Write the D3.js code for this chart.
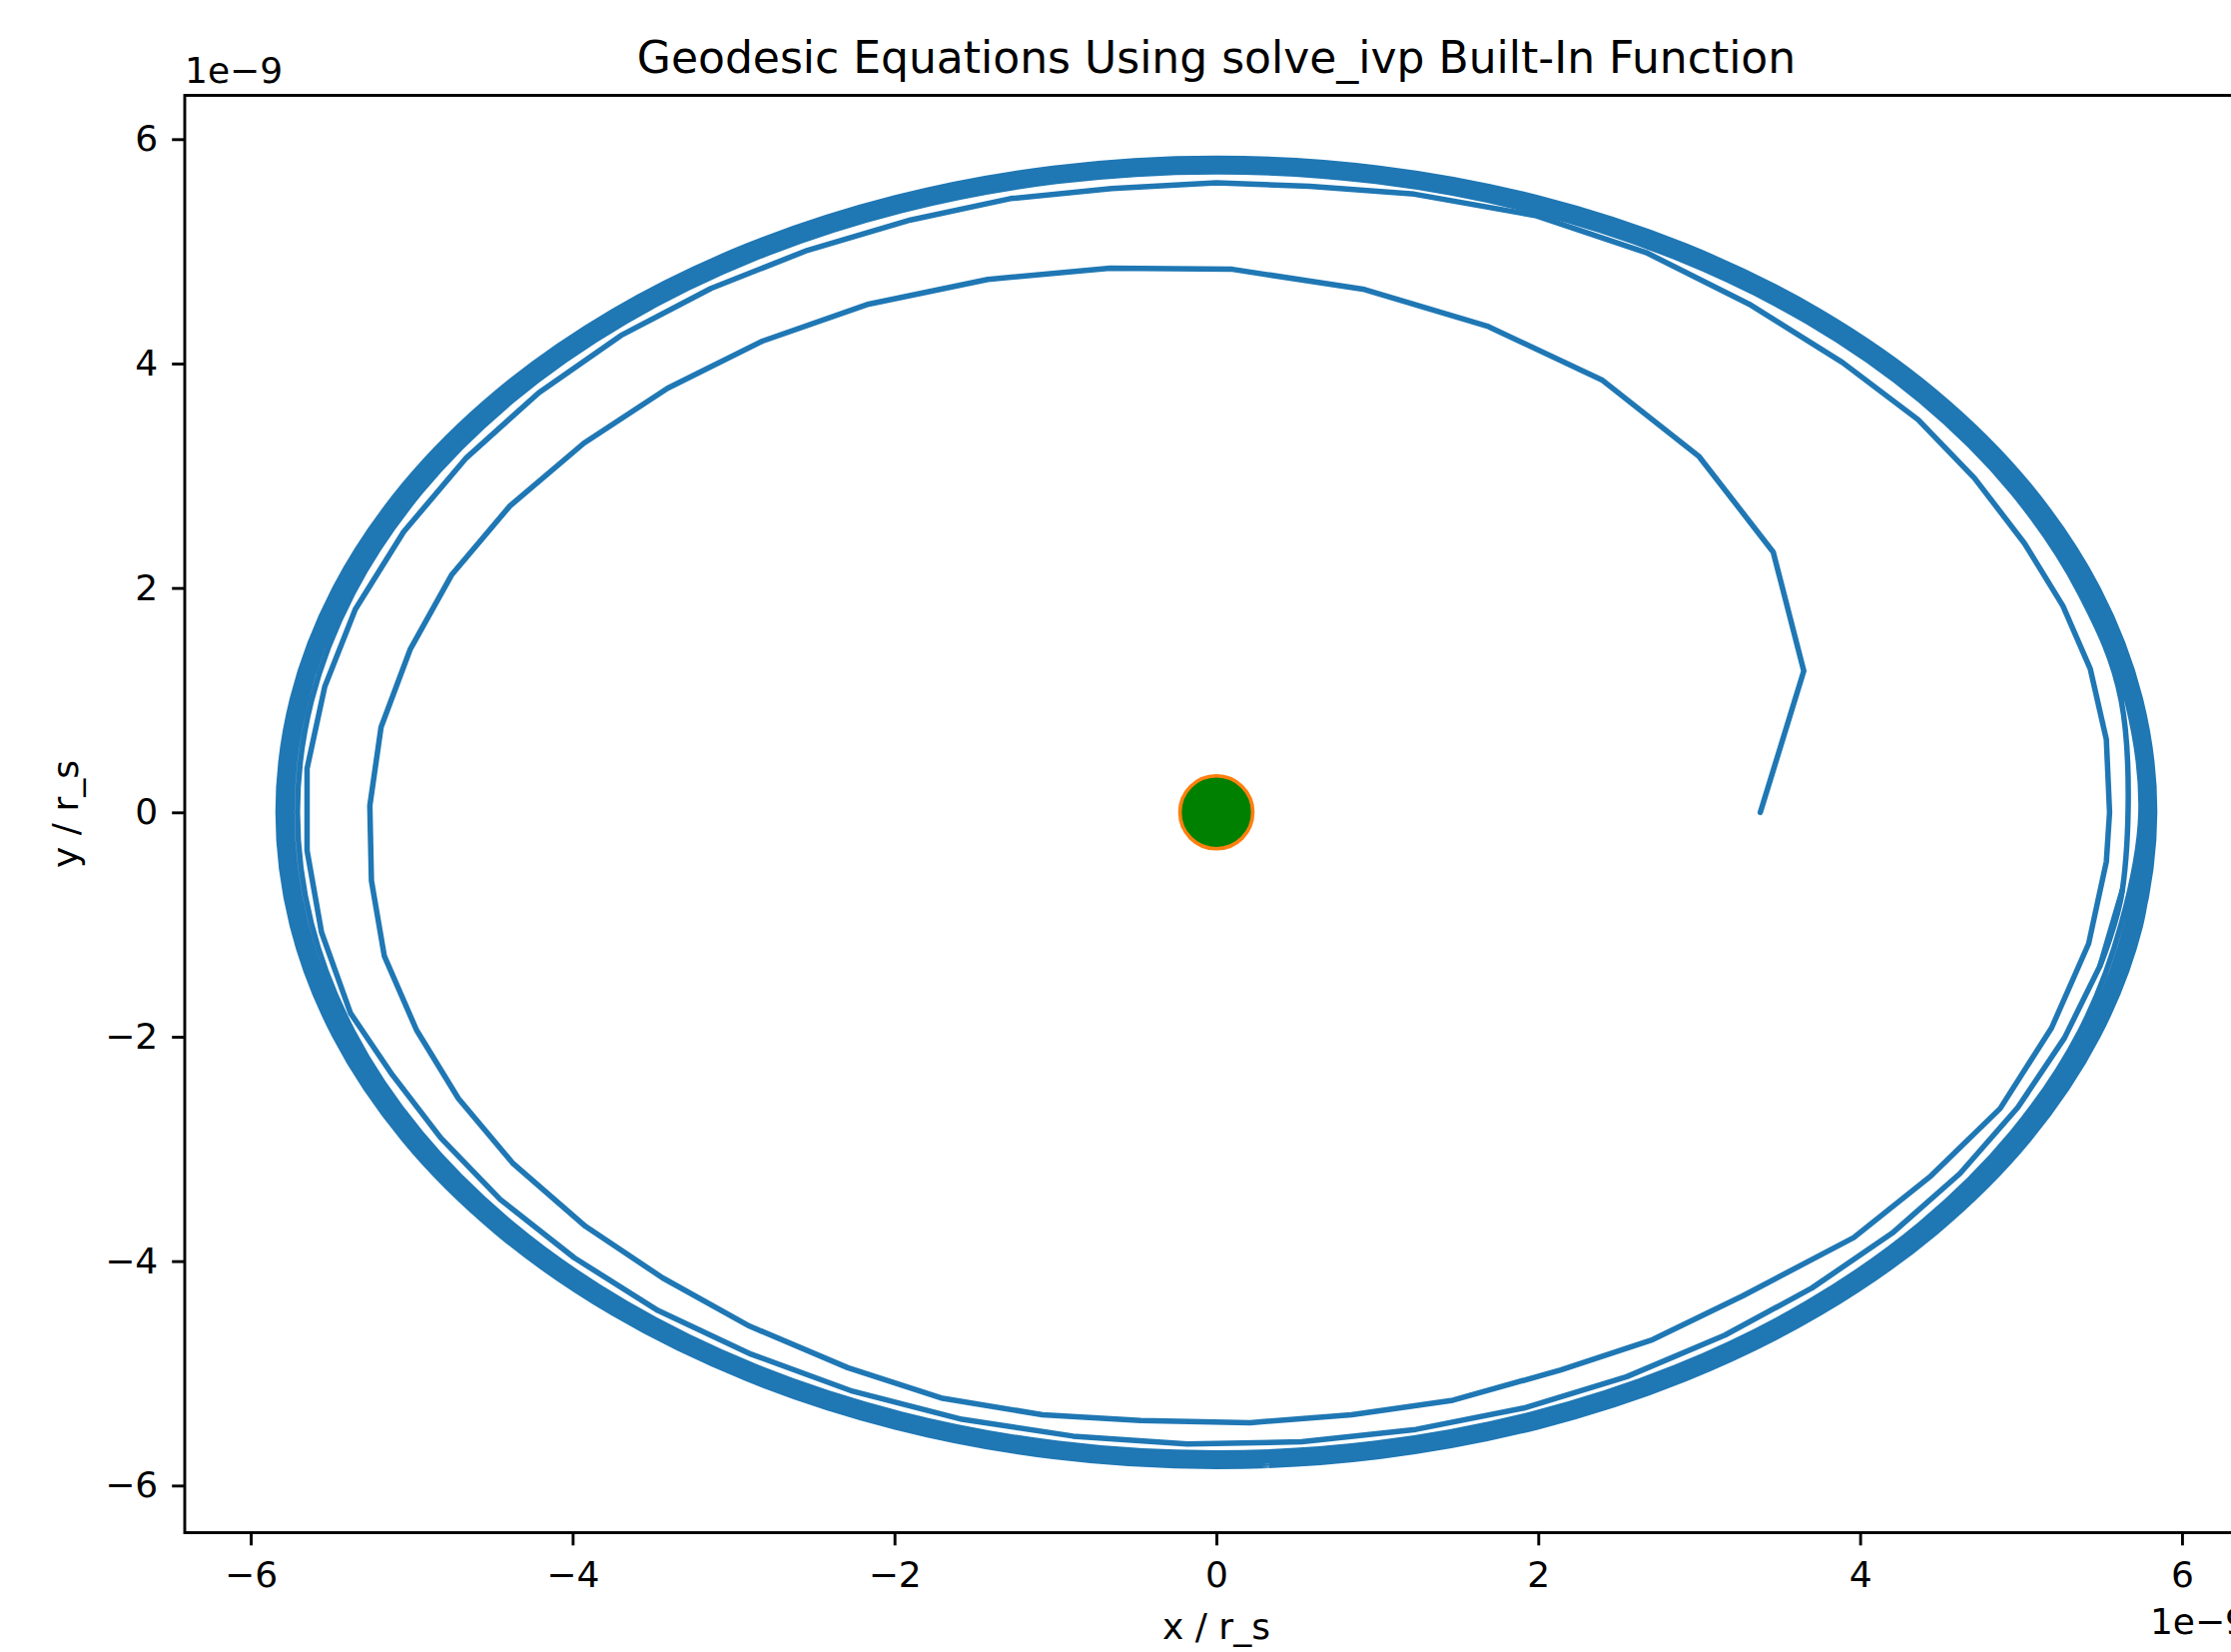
<!DOCTYPE html>
<html>
<head>
<meta charset="utf-8">
<script src="https://cdn.jsdelivr.net/npm/d3@7"></script>
<style>
  body { margin: 0; background: #fff; }
  svg { display: block; font-family: 'DejaVu Sans', sans-serif; }
</style>
</head>
<body>
<div id="chart"></div>
<script>
'use strict';

// Orbit coordinates (units of 1e-9 r_s)
// - first two turns, step by step as the solver returned them
const spiralX = [3.38, 3.65, 3.46, 3.00, 2.40, 1.69, 0.92, 0.10, -0.66, -1.42, -2.16, -2.82,
    -3.41, -3.93, -4.39, -4.75, -5.01, -5.19, -5.26, -5.25, -5.17, -4.97, -4.71, -4.37,
    -3.92, -3.44, -2.90, -2.29, -1.71, -1.08, -0.47, 0.21, 0.84, 1.47, 2.14, 2.71,
    3.27, 3.96, 4.44, 4.87, 5.19, 5.42, 5.53, 5.55, 5.53, 5.43, 5.26, 5.02,
    4.71, 4.36, 3.89, 3.31, 2.67, 1.98, 1.23, 0.58, 0.00, -0.65, -1.28, -1.90,
    -2.54, -3.14, -3.70, -4.21, -4.66, -5.05, -5.35, -5.54, -5.65, -5.65, -5.56, -5.38,
    -5.12, -4.82, -4.45, -3.99, -3.47, -2.89, -2.26, -1.58, -0.89, -0.18, 0.53, 1.24,
    1.91, 2.55, 3.16, 3.70, 4.20, 4.62, 4.98, 5.27, 5.49, 5.63];
const spiralY = [0.00, 1.26, 2.32, 3.17, 3.85, 4.33, 4.66, 4.84, 4.85, 4.75, 4.53, 4.20,
    3.78, 3.29, 2.73, 2.12, 1.45, 0.76, 0.06, -0.61, -1.28, -1.94, -2.55, -3.13,
    -3.69, -4.15, -4.58, -4.95, -5.22, -5.37, -5.42, -5.44, -5.37, -5.24, -4.97, -4.70,
    -4.31, -3.79, -3.24, -2.64, -1.92, -1.17, -0.44, 0.00, 0.65, 1.28, 1.84, 2.40,
    2.98, 3.50, 4.01, 4.53, 4.99, 5.32, 5.51, 5.58, 5.61, 5.56, 5.47, 5.28,
    5.01, 4.67, 4.25, 3.74, 3.16, 2.50, 1.81, 1.12, 0.39, -0.34, -1.07, -1.79,
    -2.34, -2.90, -3.45, -3.97, -4.44, -4.83, -5.16, -5.41, -5.56, -5.63, -5.61, -5.50,
    -5.31, -5.03, -4.66, -4.24, -3.75, -3.22, -2.63, -2.01, -1.37, -0.69];

// - later turns pile up into the thick band: one radius per turn
const bandRadii = [5.71, 5.745, 5.77, 5.79, 5.805, 5.815, 5.822, 5.827, 5.83];
const bandAngles = [0, 10, 20, 30, 40, 50, 60, 70, 80, 90, 100, 110, 120, 130, 140, 150, 160, 170,
    180, 190, 200, 210, 220, 230, 240, 250, 260, 270, 280, 290, 300, 310, 320, 330, 340, 350];

// central mass
const massX = [0];
const massY = [0];

// axes
const xLimits = [-6.41, 6.41];
const yLimits = [-6.42, 6.39];
const xTicks = [-6, -4, -2, 0, 2, 4, 6];
const yTicks = [-6, -4, -2, 0, 2, 4, 6];

const width = 2234, height = 1654;
const plot = { left: 185, right: 2251, top: 95.5, bottom: 1534.5 };
const fontSize = 36;

let svg = d3.select('#chart').append('svg')
    .attr('width', width).attr('height', height);

let x = d3.scaleLinear().domain(xLimits).range([plot.left, plot.right]);
let y = d3.scaleLinear().domain(yLimits).range([plot.bottom, plot.top]);

// Spiral part, kept as straight solver steps
let spiral = spiralX.map((v, i) => [v, spiralY[i]]);

// Band part, carrying on from the last two spiral steps
let band = spiral.slice(-2);
bandRadii.forEach((r, k) => {
    bandAngles.forEach(a => {
        if (k === 0 && a === 0) return;
        let t = a * Math.PI / 180;
        band.push([r * Math.cos(t), r * Math.sin(t)]);
    });
});
band.push([bandRadii[bandRadii.length - 1], 0]);

let chart = svg.append('g');

chart.selectAll('path.orbit')
    .data([
        { pts: spiral, curve: d3.curveLinear },
        { pts: band, curve: d3.curveCatmullRom }
    ])
    .join('path')
    .classed('orbit', true)
    .attr('d', d => d3.line().x(p => x(p[0])).y(p => y(p[1])).curve(d.curve)(d.pts))
    .attr('fill', 'none')
    .attr('stroke', '#1f77b4')
    .attr('stroke-width', 5.5)
    .attr('stroke-linejoin', 'round')
    .attr('stroke-linecap', 'round');

chart.selectAll('circle.mass')
    .data(massX.map((v, i) => [v, massY[i]]))
    .join('circle')
    .classed('mass', true)
    .attr('cx', d => x(d[0]))
    .attr('cy', d => y(d[1]))
    .attr('r', 36.5)
    .attr('fill', '#008000')
    .attr('stroke', '#ff7f0e')
    .attr('stroke-width', 3.6);

// Axes
const minus = d => d < 0 ? '\u2212' + Math.abs(d) : String(d);

let xAxis = svg.append('g')
    .attr('transform', `translate(0,${plot.bottom})`)
    .call(d3.axisBottom(x).tickValues(xTicks).tickFormat(minus).tickSize(12.8).tickPadding(16));

let yAxis = svg.append('g')
    .attr('transform', `translate(${plot.left},0)`)
    .call(d3.axisLeft(y).tickValues(yTicks).tickFormat(minus).tickSize(12.8).tickPadding(14));

[xAxis, yAxis].forEach(ax => {
    ax.select('.domain').remove();
    ax.selectAll('.tick line').attr('stroke', '#000').attr('stroke-width', 2.9);
    ax.selectAll('.tick text')
        .attr('fill', '#000')
        .attr('font-size', fontSize)
        .attr('font-family', "'DejaVu Sans', sans-serif");
});

// frame
svg.append('rect')
    .attr('x', plot.left).attr('y', plot.top)
    .attr('width', plot.right - plot.left).attr('height', plot.bottom - plot.top)
    .attr('fill', 'none')
    .attr('stroke', '#000')
    .attr('stroke-width', 2.9);

// Texts
svg.append('text')
    .attr('x', (plot.left + plot.right) / 2)
    .attr('y', 73)
    .attr('text-anchor', 'middle')
    .attr('font-size', 44)
    .text('Geodesic Equations Using solve_ivp Built-In Function');

svg.append('text')
    .attr('x', plot.left)
    .attr('y', 83)
    .attr('font-size', fontSize)
    .text('1e\u22129');

svg.append('text')
    .attr('x', plot.right)
    .attr('y', 1636)
    .attr('text-anchor', 'end')
    .attr('font-size', fontSize)
    .text('1e\u22129');

svg.append('text')
    .attr('x', (plot.left + plot.right) / 2)
    .attr('y', 1641)
    .attr('text-anchor', 'middle')
    .attr('font-size', fontSize)
    .text('x / r_s');

svg.append('text')
    .attr('transform', `translate(78,${(plot.top + plot.bottom) / 2}) rotate(-90)`)
    .attr('text-anchor', 'middle')
    .attr('font-size', fontSize)
    .text('y / r_s');
</script>
</body>
</html>
